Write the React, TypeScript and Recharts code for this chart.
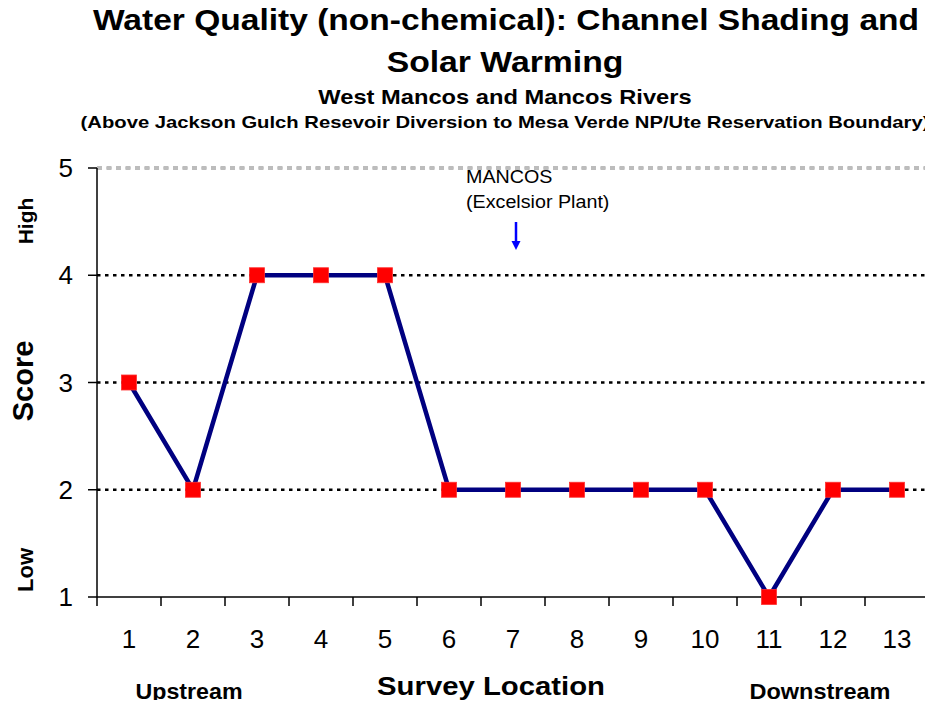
import React from 'react';
import { LineChart, Line, XAxis, YAxis, ReferenceLine, ReferenceDot } from 'recharts';

const locations = [1, 2, 3, 4, 5, 6, 7, 8, 9, 10, 11, 12, 13];
const scores = [3, 2, 4, 4, 4, 2, 2, 2, 2, 2, 1, 2, 2];
const yTicks = [1, 2, 3, 4, 5];
const xBoundaryTicks = [0.5, 1.5, 2.5, 3.5, 4.5, 5.5, 6.5, 7.5, 8.5, 9.5, 10.5, 11.5, 12.5, 13.5];
const gridLevels = [2, 3, 4];
const topLevel = 5;
const annotationLocation = 7;
const annotationLines = ['MANCOS', '(Excelsior Plant)'];

const data = locations.map((loc, i) => ({ loc, score: scores[i] }));

const FONT = '"Liberation Sans", Arial, sans-serif';

const renderDot = (props: any) => {
  const { cx, cy, index } = props;
  if (cx == null || cy == null) return <g key={`d${index}`} />;
  return <rect key={`d${index}`} x={cx - 7.5} y={cy - 7.5} width={15} height={15} fill="#FF0000" stroke="#FF3030" strokeWidth={0.8} />;
};

const renderNoTickLabel = (props: any) => <g key={`nt${props.index}`} />;

const Note = (props: any) => {
  const { cx, cy } = props;
  if (cx == null || cy == null) return <g />;
  return (
    <g>
      <text transform={`translate(${cx - 47},${cy + 15}) scale(1.065,1)`} fontSize={18.5} fill="#000" fontFamily={FONT}>{annotationLines[0]}</text>
      <text transform={`translate(${cx - 47},${cy + 40}) scale(1.065,1)`} fontSize={18.5} fill="#000" fontFamily={FONT}>{annotationLines[1]}</text>
      <line x1={cx + 3} y1={cy + 54} x2={cx + 3} y2={cy + 74} stroke="#0000FF" strokeWidth={2.5} />
      <polygon points={`${cx - 1.5},${cy + 73} ${cx + 7.5},${cy + 73} ${cx + 3},${cy + 82}`} fill="#0000FF" />
    </g>
  );
};

const T = ({ x, y, size, sx = 1, children, bold = true, rotate = false }: any) => (
  <text
    transform={rotate ? `translate(${x},${y}) rotate(-90)` : `translate(${x},${y}) scale(${sx},1)`}
    textAnchor="middle"
    fontSize={size}
    fontWeight={bold ? 'bold' : 'normal'}
    fill="#000"
    fontFamily={FONT}
  >
    {children}
  </text>
);

export default function App() {
  return (
    <div style={{ position: 'relative', width: 925, height: 692, fontFamily: FONT, background: '#fff' }}>
      <LineChart width={925} height={692} data={data} margin={{ top: 160, right: 4, left: 0, bottom: 44 }}>
        <XAxis
          xAxisId="b_labels"
          dataKey="loc"
          type="number"
          domain={[0.5, 13.5]}
          ticks={locations}
          interval={0}
          height={50}
          tickSize={0}
          tickMargin={23.5}
          axisLine={false}
          tickLine={false}
          tick={{ fontSize: 26, fill: '#000', fontFamily: FONT }}
        />
        <XAxis
          xAxisId="a_ticks"
          dataKey="loc"
          type="number"
          domain={[0.5, 13.5]}
          ticks={xBoundaryTicks}
          interval={0}
          tick={renderNoTickLabel}
          tickSize={9}
          height={9}
          axisLine={{ stroke: '#000', strokeWidth: 1.5 }}
          tickLine={{ stroke: '#000', strokeWidth: 1.5 }}
        />
        <YAxis
          type="number"
          domain={[1, 5]}
          ticks={yTicks}
          interval={0}
          width={89}
          tickSize={9}
          tickMargin={15}
          axisLine={{ stroke: '#000', strokeWidth: 1.5 }}
          tickLine={{ stroke: '#000', strokeWidth: 1.5 }}
          tick={{ fontSize: 26, fill: '#000', fontFamily: FONT }}
        />
        {gridLevels.map((v) => (
          <ReferenceLine key={`g${v}`} xAxisId="b_labels" y={v} stroke="#000" strokeWidth={2.5} strokeDasharray="3.5 4.5" />
        ))}
        <ReferenceLine xAxisId="b_labels" y={topLevel} stroke="#7a7a7a" strokeWidth={3} strokeDasharray="5 4.5" />
        <ReferenceLine xAxisId="b_labels" y={topLevel} stroke="#ffffff" strokeWidth={1} strokeDasharray="5 4.5" />
        <Line
          xAxisId="b_labels"
          type="linear"
          dataKey="score"
          stroke="#000080"
          strokeWidth={4.5}
          dot={renderDot}
          activeDot={false}
          isAnimationActive={false}
        />
        <ReferenceDot xAxisId="b_labels" x={annotationLocation} y={topLevel} shape={(p: any) => <Note {...p} />} />
      </LineChart>
      <svg
        width={925}
        height={692}
        style={{ position: 'absolute', left: 0, top: 0, pointerEvents: 'none', overflow: 'visible' }}
      >
        <T x={498} y={22} size={29} sx={1.157}>Water Quality (non-chemical): Channel Shading and</T>
        <T x={497} y={64} size={29} sx={1.163}>Solar Warming</T>
        <T x={497} y={96} size={19.5} sx={1.215}>West Mancos and Mancos Rivers</T>
        <T x={497} y={120} size={16.5} sx={1.227}>(Above Jackson Gulch Resevoir Diversion to Mesa Verde NP/Ute Reservation Boundary)</T>
        <T x={25} y={373} size={29} rotate>Score</T>
        <T x={25} y={213} size={21} rotate>High</T>
        <T x={25} y={562} size={22} rotate>Low</T>
        <T x={483} y={687} size={26} sx={1.127}>Survey Location</T>
        <T x={181} y={691} size={22} sx={1.055}>Upstream</T>
        <T x={812} y={691} size={22} sx={1.068}>Downstream</T>
      </svg>
    </div>
  );
}
